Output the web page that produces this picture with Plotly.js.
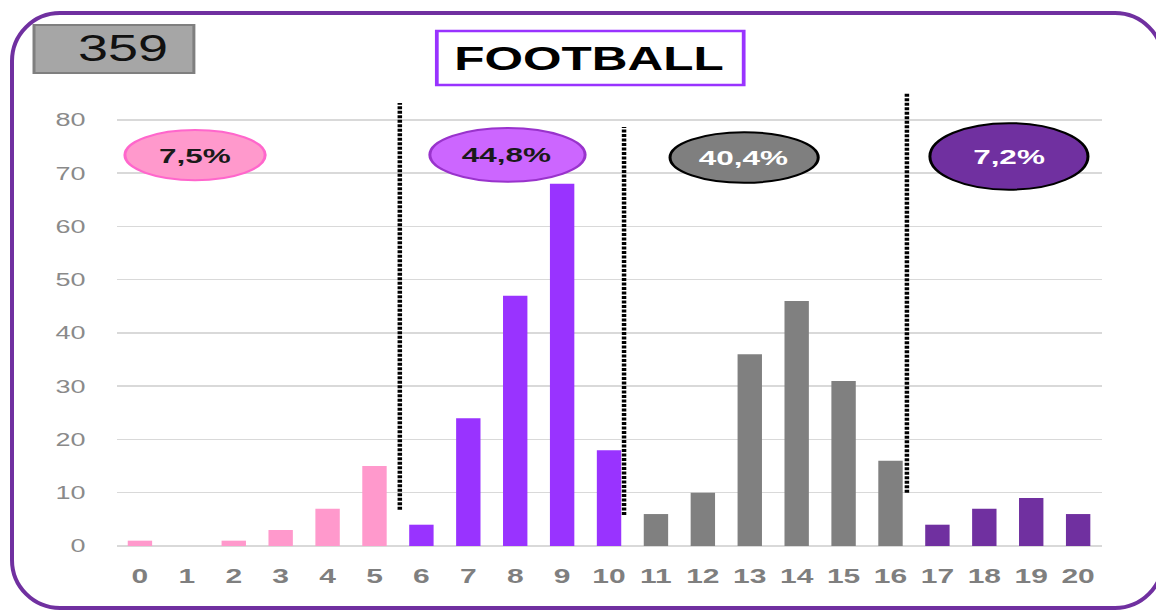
<!DOCTYPE html>
<html>
<head>
<meta charset="utf-8">
<script src="https://cdn.plot.ly/plotly-3.0.1.min.js"></script>
<style>
html,body{margin:0;padding:0;width:1156px;height:611px;overflow:hidden;background:#ffffff;}
#wrap{position:absolute;left:0;top:0;width:771px;height:611px;transform:scaleX(1.4994);transform-origin:0 0;}
#chart{width:771px;height:611px;}
#frame{position:absolute;left:10px;top:11px;width:1155px;height:599px;border:4px solid #7030A0;border-radius:50px;box-sizing:border-box;pointer-events:none;}
</style>
</head>
<body>
<div id="wrap"><div id="chart"></div></div>
<div id="frame"></div>
<script>
// ---- data ----
const categories = [0,1,2,3,4,5,6,7,8,9,10,11,12,13,14,15,16,17,18,19,20];
const tickLabels = ["0","1","2","3","4","5","6","7","8","9","10","11","12","13","14","15","16","17","18","19","20"];
const counts = [1,0,1,3,7,15,4,24,47,68,18,6,10,36,46,31,16,4,7,9,6];
const groupStart = [0,6,11,17];
const groupEnd = [5,10,16,20];
const yTicks = [0,10,20,30,40,50,60,70,80];
const chartTitle = "FOOTBALL";

// ---- styles ----
const groupColors = ["#FF99CC","#9933FF","#808080","#7030A0"];
const badgeFill = ["#FF99CC","#CC66FF","#7F7F7F","#7030A0"];
const badgeLine = ["#FF66CC","#9933CC","#000000","#000000"];
const badgeText = ["#1A1A1A","#1A1A1A","#FFFFFF","#FFFFFF"];
// badge ellipse boxes (data coords) — decoration placement
const badgeBox = [
  [-0.32, 2.67, 68.7, 78.1],
  [6.18, 9.49, 68.4, 78.5],
  [11.30, 14.46, 68.2, 77.7],
  [16.84, 20.21, 66.9, 79.4]
];
// separator dotted lines (data coords) — decoration placement
const separators = [
  [5.54, 6.8, 83.2],
  [10.32, 5.8, 78.7],
  [16.35, 10.0, 85.0]
];

const total = counts.reduce((a,b)=>a+b,0);
const barColors = categories.map(c => {
  for (let g=0; g<groupStart.length; g++) if (c>=groupStart[g] && c<=groupEnd[g]) return groupColors[g];
  return groupColors[0];
});
const groupPct = groupStart.map((s,g) => {
  let sum = 0;
  categories.forEach((c,i)=>{ if (c>=s && c<=groupEnd[g]) sum += counts[i]; });
  return (sum/total*100).toFixed(1).replace('.', ',') + '%';
});

const FONT = "Liberation Sans, Arial, sans-serif";
const shapes = [];
const annotations = [];

// total box
shapes.push({type:'rect', xref:'paper', yref:'paper', x0:-0.0842, x1:0.0781, y0:1.0328, y1:1.1376,
  fillcolor:'#A6A6A6', line:{color:'#7F7F7F', width:2}, layer:'above'});
annotations.push({xref:'paper', yref:'paper', x:0.0062, y:1.0873, xanchor:'center', yanchor:'middle',
  text:String(total), showarrow:false, font:{family:FONT, size:36, color:'#111111'}});

// title box
shapes.push({type:'rect', xref:'paper', yref:'paper', x0:0.3247, x1:0.6362, y0:1.0066, y1:1.1245,
  fillcolor:'#FFFFFF', line:{color:'#9933FF', width:2.5}, layer:'above'});
annotations.push({xref:'paper', yref:'paper', x:0.479, y:1.0655, xanchor:'center', yanchor:'middle',
  text:chartTitle, showarrow:false, font:{family:FONT, size:33, color:'#000000', weight:'bold'}});

// separators
separators.forEach(s => {
  shapes.push({type:'line', xref:'x', yref:'y', x0:s[0], x1:s[0], y0:s[1], y1:s[2],
    line:{color:'#000000', width:3, dash:'3px,1.5px'}, layer:'above'});
});

// badges
badgeBox.forEach((b,g) => {
  shapes.push({type:'circle', xref:'x', yref:'y', x0:b[0], x1:b[1], y0:b[2], y1:b[3],
    fillcolor:badgeFill[g], line:{color:badgeLine[g], width:2}, layer:'above'});
  annotations.push({xref:'x', yref:'y', x:(b[0]+b[1])/2, y:(b[2]+b[3])/2, xanchor:'center', yanchor:'middle',
    text:groupPct[g], showarrow:false, font:{family:FONT, size:21, color:badgeText[g], weight:'bold'}});
});

const trace = {
  type:'bar', x:categories, y:counts, width:0.52,
  marker:{color:barColors, line:{width:0}},
  hoverinfo:'skip'
};

const layout = {
  width:771, height:611,
  margin:{l:78, r:36, t:88, b:65},
  paper_bgcolor:'rgba(0,0,0,0)', plot_bgcolor:'#FFFFFF',
  showlegend:false,
  font:{family:FONT},
  xaxis:{range:[-0.49,20.51], tickmode:'array', tickvals:categories, ticktext:tickLabels,
    tickfont:{family:FONT, size:20, color:'#7F7F7F', weight:'bold'},
    showgrid:false, zeroline:false, showline:false, ticks:'', ticklabelstandoff:16, fixedrange:true},
  yaxis:{range:[0,86], tickmode:'array', tickvals:yTicks,
    tickfont:{family:FONT, size:18, color:'#8A8A8A'},
    showgrid:true, gridcolor:'#D9D9D9', gridwidth:1.5,
    zeroline:true, zerolinecolor:'#D9D9D9', zerolinewidth:2,
    showline:false, ticks:'', ticklabelstandoff:20, fixedrange:true},
  shapes:shapes,
  annotations:annotations
};

Plotly.newPlot('chart', [trace], layout, {staticPlot:true, displayModeBar:false});
</script>
</body>
</html>
